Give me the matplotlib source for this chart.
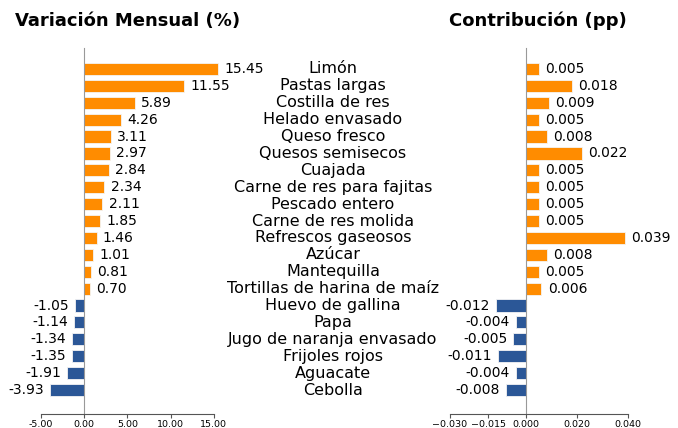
import numpy as np
import matplotlib
matplotlib.use("Agg")
import matplotlib.pyplot as plt
from matplotlib.ticker import FormatStrFormatter, FixedLocator
from matplotlib.transforms import blended_transform_factory

categorias = ["Limón", "Pastas largas", "Costilla de res", "Helado envasado",
              "Queso fresco", "Quesos semisecos", "Cuajada",
              "Carne de res para fajitas", "Pescado entero", "Carne de res molida",
              "Refrescos gaseosos", "Azúcar", "Mantequilla",
              "Tortillas de harina de maíz", "Huevo de gallina", "Papa",
              "Jugo de naranja envasado", "Frijoles rojos", "Aguacate", "Cebolla"]
variacion = [15.45, 11.55, 5.89, 4.26, 3.11, 2.97, 2.84, 2.34, 2.11, 1.85,
             1.46, 1.01, 0.81, 0.70, -1.05, -1.14, -1.34, -1.35, -1.91, -3.93]
contribucion = [0.005, 0.018, 0.009, 0.005, 0.008, 0.022, 0.005, 0.005, 0.005, 0.005,
                0.039, 0.008, 0.005, 0.006, -0.012, -0.004, -0.005, -0.011, -0.004, -0.008]
ticks_var = [-5, 0, 5, 10, 15]
ticks_con = [-0.030, -0.015, 0.0, 0.020, 0.040]

naranja = "#FF8C00"
azul = "#2B5797"
gris = "#999999"

W, H = 678, 428
fig = plt.figure(figsize=(W / 100, H / 100), dpi=100)

y = np.arange(len(categorias))
top, bottom = 48, 414
ylim = (20.42, -1.24)

# eje izquierdo: variación
ax1 = fig.add_axes([40.7 / W, (H - bottom) / H, 21 * 8.66 / W, (bottom - top) / H])
# eje derecho: contribución
ax2 = fig.add_axes([450 / W, (H - bottom) / H, 0.07 * 2540 / W, (bottom - top) / H])


def dibujar(ax, vals, xlim, ticks, fmt):
    colores = [naranja if v >= 0 else azul for v in vals]
    ax.barh(y, vals, height=0.72, color=colores, edgecolor="#f4f4f4", linewidth=0.6)
    ax.set_ylim(*ylim)
    ax.set_xlim(*xlim)
    ax.set_yticks([])
    for s in ["top", "right"]:
        ax.spines[s].set_visible(False)
    ax.spines["left"].set_position(("data", 0))
    ax.spines["left"].set_color(gris)
    ax.spines["bottom"].set_color("#555555")
    ax.spines["bottom"].set_bounds(ticks[0], ticks[-1])
    ax.xaxis.set_major_locator(FixedLocator(ticks))
    if fmt:
        ax.xaxis.set_major_formatter(FormatStrFormatter(fmt))
    ax.tick_params(axis="x", labelsize=6.8, length=3, pad=1.5, color="#555555")
    ax.tick_params(axis="y", length=0)
    for yi, v in zip(y, vals):
        txt = f"{v:.2f}" if fmt else f"{v:.3f}"
        ax.annotate(txt, (v, yi), xytext=(4.5 if v >= 0 else -4.5, 0),
                    textcoords="offset points", va="center",
                    ha="left" if v >= 0 else "right", fontsize=10)


dibujar(ax1, variacion, (-5, 16), ticks_var, "%.2f")
dibujar(ax2, contribucion, (-0.030, 0.040), ticks_con, None)

# nombres de productos en el centro
tr = blended_transform_factory(fig.transFigure, ax1.transData)
for yi, c in zip(y, categorias):
    fig.text(333 / W, yi, c, transform=tr, ha="center", va="center", fontsize=11.5)

fig.text(15 / W, 1 - 21 / H, "Variación Mensual (%)", fontsize=13,
         fontweight="bold", va="center", ha="left")
fig.text(449 / W, 1 - 21 / H, "Contribución (pp)", fontsize=13,
         fontweight="bold", va="center", ha="left")

fig.savefig("out.png", dpi=100)
